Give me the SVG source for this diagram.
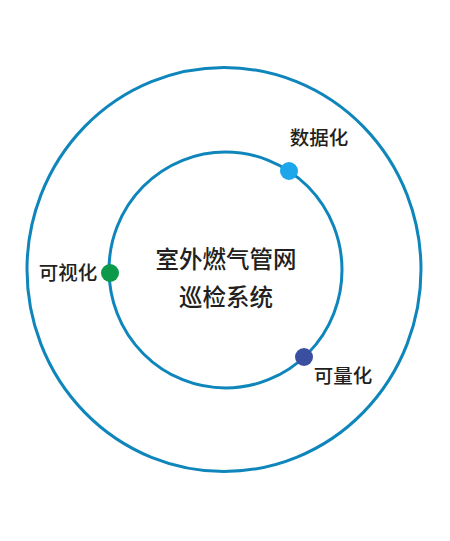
<svg xmlns="http://www.w3.org/2000/svg" width="450" height="541" viewBox="0 0 450 541">
<style>
.ring{fill:none;stroke:#0f86bb;stroke-width:3}
.lbl{font-family:"Noto Sans CJK SC","Noto Sans",sans-serif;font-weight:500;fill:#231f20}
.s{font-size:19.5px}
.m{font-size:23.5px}
</style>
<rect width="450" height="541" fill="#ffffff"/>
<g id="connectors">
<ellipse class="ring" cx="224" cy="269.5" rx="197" ry="202"/>
<ellipse class="ring" cx="225.5" cy="270" rx="116.5" ry="118"/>
</g>
<g id="center">
<text class="lbl m" x="226" y="267.5" text-anchor="middle">室外燃气管网</text>
<text class="lbl m" x="226" y="305.5" text-anchor="middle">巡检系统</text>
</g>
<g id="shuju">
<circle cx="289" cy="171" r="9" fill="#1ea6ea"/>
<text class="lbl s" x="319" y="145" text-anchor="middle">数据化</text>
</g>
<g id="keshi">
<circle cx="110" cy="273" r="9" fill="#0c9a4a"/>
<text class="lbl s" x="68" y="280" text-anchor="middle">可视化</text>
</g>
<g id="keliang">
<circle cx="304" cy="357" r="9" fill="#3b4fa1"/>
<text class="lbl s" x="343" y="383" text-anchor="middle">可量化</text>
</g>
</svg>
